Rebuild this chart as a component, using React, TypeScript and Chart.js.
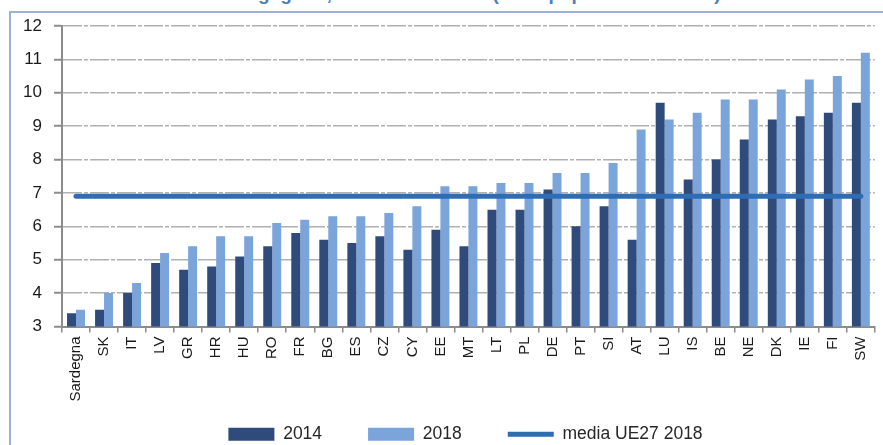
import React, { useEffect, useRef } from 'react';
import { Chart, registerables } from 'chart.js';

Chart.register(...registerables);

const titleText = 'Grafico 3.2 – Scienziati e ingegneri, anni 2014 e 2018 (% su popolazione attiva)';

const categories = [
  'Sardegna', 'SK', 'IT', 'LV', 'GR', 'HR', 'HU', 'RO', 'FR', 'BG', 'ES', 'CZ', 'CY', 'EE', 'MT',
  'LT', 'PL', 'DE', 'PT', 'SI', 'AT', 'LU', 'IS', 'BE', 'NE', 'DK', 'IE', 'FI', 'SW',
];

const values2014 = [
  3.4, 3.5, 4.0, 4.9, 4.7, 4.8, 5.1, 5.4, 5.8, 5.6, 5.5, 5.7, 5.3, 5.9, 5.4,
  6.5, 6.5, 7.1, 6.0, 6.6, 5.6, 9.7, 7.4, 8.0, 8.6, 9.2, 9.3, 9.4, 9.7,
];

const values2018 = [
  3.5, 4.0, 4.3, 5.2, 5.4, 5.7, 5.7, 6.1, 6.2, 6.3, 6.3, 6.4, 6.6, 7.2, 7.2,
  7.3, 7.3, 7.6, 7.6, 7.9, 8.9, 9.2, 9.4, 9.8, 9.8, 10.1, 10.4, 10.5, 11.2,
];

const mediaUE27_2018 = 6.9;

const seriesLabels = ['2014', '2018', 'media UE27 2018'];

const yMin = 3;
const yMax = 12;
const yStep = 1;

// Small layout adjustments: let the rotated x labels extend below the axis box,
// and shift the centred legend slightly to the right as in the reference.
const layoutTweaks = {
  id: 'layoutTweaks',
  afterLayout(chart: any) {
    const x = chart.scales.x;
    if (x) x.bottom = x.top + 80;
    if (chart.legend) chart.legend.left = 56;
  },
};

export default function App() {
  const canvasRef = useRef<HTMLCanvasElement>(null);

  useEffect(() => {
    const canvas = canvasRef.current;
    if (!canvas) return;
    const chart = new Chart(canvas, {
      data: {
        labels: categories,
        datasets: [
          {
            type: 'bar',
            label: seriesLabels[0],
            data: values2014,
            backgroundColor: '#2f4b7c',
            borderWidth: 0,
            pointStyle: 'rect',
            categoryPercentage: 0.64,
            barPercentage: 1,
          } as any,
          {
            type: 'bar',
            label: seriesLabels[1],
            data: values2018,
            backgroundColor: '#7ba5da',
            borderWidth: 0,
            pointStyle: 'rect',
            categoryPercentage: 0.64,
            barPercentage: 1,
          } as any,
          {
            type: 'line',
            label: seriesLabels[2],
            data: categories.map(() => mediaUE27_2018),
            borderColor: '#2e6db4',
            backgroundColor: '#2e6db4',
            borderWidth: 5,
            borderCapStyle: 'round',
            pointRadius: 0,
            pointStyle: 'line',
            fill: false,
            order: -1,
          } as any,
        ],
      },
      options: {
        responsive: false,
        animation: false,
        devicePixelRatio: 1,
        layout: { padding: { left: 16, right: 8, top: 26, bottom: 0 } },
        plugins: {
          title: { display: false },
          tooltip: { enabled: false },
          legend: {
            position: 'bottom',
            align: 'center',
            labels: {
              usePointStyle: true,
              pointStyleWidth: 46,
              boxHeight: 13,
              padding: 46,
              color: '#262626',
              font: { family: '"Liberation Sans", Arial, sans-serif', size: 17.5 },
              sort: (a: any, b: any) => a.datasetIndex - b.datasetIndex,
            },
          },
        },
        scales: {
          x: {
            type: 'category',
            offset: true,
            afterFit: (scale: any) => {
              scale.height = 53;
            },
            grid: {
              offset: true,
              display: true,
              drawOnChartArea: false,
              drawTicks: true,
              tickLength: 6,
              color: '#8c8c8c',
              lineWidth: 1.5,
            },
            border: { display: true, color: '#8c8c8c', width: 2 },
            ticks: {
              autoSkip: false,
              minRotation: 90,
              maxRotation: 90,
              padding: 4,
              color: '#1a1a1a',
              font: { family: '"Liberation Sans", Arial, sans-serif', size: 15 },
            },
          },
          y: {
            type: 'linear',
            min: yMin,
            max: yMax,
            afterFit: (scale: any) => {
              scale.width = 46;
            },
            ticks: {
              stepSize: yStep,
              padding: 12,
              color: '#1a1a1a',
              font: { family: '"Liberation Sans", Arial, sans-serif', size: 17 },
            },
            grid: {
              color: '#b0b0b0',
              lineWidth: 1.5,
              tickLength: 8,
              tickColor: '#8c8c8c',
              tickWidth: 2,
            },
            border: { display: true, color: '#8c8c8c', width: 2, dash: [19, 2, 4, 2] },
          },
        },
      } as any,
      plugins: [layoutTweaks],
    });
    return () => {
      chart.destroy();
    };
  }, []);

  return (
    <div
      style={{
        position: 'absolute',
        left: 0,
        top: 0,
        width: 883,
        height: 445,
        overflow: 'hidden',
        background: '#ffffff',
      }}
    >
      <div
        style={{
          position: 'absolute',
          left: 13,
          top: -16,
          whiteSpace: 'nowrap',
          fontFamily: '"Liberation Sans", Arial, sans-serif',
          fontWeight: 'bold',
          fontSize: 19,
          lineHeight: '19px',
          color: '#4a7ebb',
        }}
      >
        {titleText}
      </div>
      <div
        style={{
          position: 'absolute',
          left: 9,
          top: 11,
          width: 880,
          height: 460,
          borderTop: '2px solid #9bb3d4',
          borderLeft: '2px solid #9bb3d4',
        }}
      />
      <canvas
        ref={canvasRef}
        width={883}
        height={453}
        style={{ position: 'absolute', left: 0, top: 0, display: 'block' }}
      />
    </div>
  );
}
